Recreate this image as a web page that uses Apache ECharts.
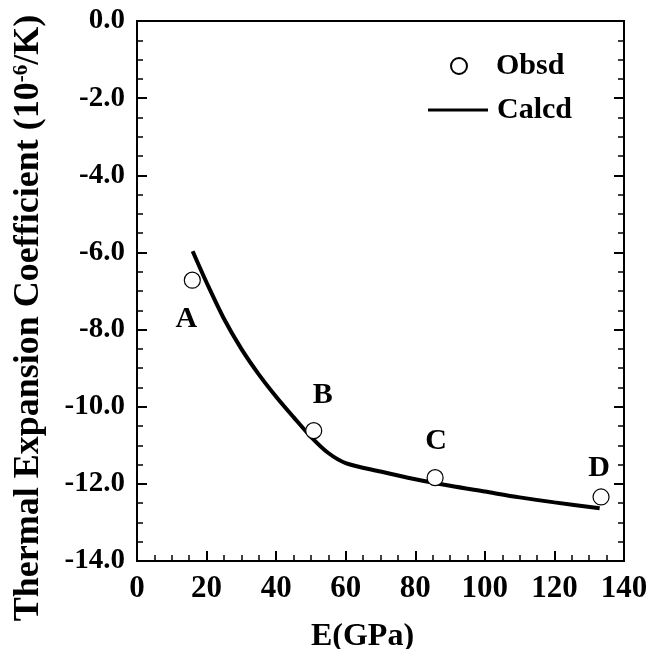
<!DOCTYPE html>
<html><head><meta charset="utf-8">
<script src="https://cdn.jsdelivr.net/npm/echarts@6/dist/echarts.min.js"></script>
<style>html,body{margin:0;padding:0;background:#fff}#c{width:657px;height:649px}</style>
</head><body><div id="c"></div>
<script>
// Observed points
const obsE = [15.9, 50.8, 85.7, 133.4];
const obsA = [-6.72, -10.62, -11.84, -12.34];
const obsLabels = ['A', 'B', 'C', 'D'];
// Calculated curve
const calcE = [16, 20, 25, 30, 35, 40, 45, 50, 55, 60, 70, 80, 90, 100, 110, 120, 133];
const calcA = [-5.97, -6.78, -7.72, -8.5, -9.16, -9.74, -10.27, -10.78, -11.2, -11.46, -11.68, -11.88, -12.05, -12.2, -12.35, -12.48, -12.63];
const xTicks = [0, 20, 40, 60, 80, 100, 120, 140];
const yTicks = [0, -2, -4, -6, -8, -10, -12, -14];

const font = 'Liberation Serif';
const labelOffsets = [[-6, 39], [9, -35], [1, -36], [-2, -29]];

const chart = echarts.init(document.getElementById('c'));
function axisCommon() {
  return {
    axisLine: { show: true, onZero: false, lineStyle: { color: '#000', width: 2 } },
    axisTick: { show: true, inside: true, length: 10, lineStyle: { color: '#000', width: 2 } },
    minorTick: { show: true, splitNumber: 4, length: 6, lineStyle: { color: '#000', width: 1.5 } },
    splitLine: { show: false }
  };
}
const bold = { fontFamily: font, fontWeight: 'bold', color: '#000' };
chart.setOption({
  animation: false,
  backgroundColor: '#fff',
  grid: { left: 137, top: 21, right: 33, bottom: 88, outerBoundsMode: 'none', containLabel: false,
    show: true, borderColor: '#000', borderWidth: 2, backgroundColor: 'transparent' },
  legend: [
    { data: ['Obsd'], left: 450, top: 51, padding: 0, itemWidth: 16, itemHeight: 16, itemGap: 0,
      textStyle: Object.assign({ fontSize: 30, padding: [0, 0, 0, 24] }, bold) },
    { data: [{ name: 'Calcd', icon: 'rect' }], left: 428, top: 95, padding: 0, itemWidth: 60, itemHeight: 3, itemGap: 0,
      itemStyle: { color: '#000', borderWidth: 0 },
      textStyle: Object.assign({ fontSize: 30, padding: [0, 0, 0, 4] }, bold) }
  ],
  xAxis: [Object.assign(axisCommon(), {
    type: 'value', min: 0, max: 140, interval: 20,
    name: 'E(GPa)', nameLocation: 'middle', nameGap: 60,
    nameTextStyle: Object.assign({ fontSize: 32, padding: [0, 36, 0, 0] }, bold),
    axisLabel: Object.assign({ fontSize: 31, margin: 12,
      formatter: v => xTicks.includes(v) ? String(v) : '' }, bold)
  })],
  yAxis: [Object.assign(axisCommon(), {
    type: 'value', min: -14, max: 0, interval: 2,
    name: '{a|Thermal Expansion Coefficient (10}{s|-6}{a|/K)}', nameLocation: 'middle', nameGap: 90,
    nameTextStyle: Object.assign({ fontSize: 36, padding: [0, 54, 0, 0],
      rich: { a: Object.assign({ fontSize: 36 }, bold),
              s: Object.assign({ fontSize: 21, verticalAlign: 'top', padding: [0, 0, 12, 0] }, bold) } }, bold),
    axisLabel: Object.assign({ fontSize: 29, margin: 12,
      formatter: v => yTicks.includes(v) ? v.toFixed(1) : '' }, bold)
  }), Object.assign(axisCommon(), {
    type: 'value', min: -14, max: 0, interval: 2, position: 'right',
    axisLabel: { show: false }
  })],
  series: [
    { name: 'Calcd', type: 'line', data: calcE.map((e, i) => [e, calcA[i]]), smooth: 0.3,
      showSymbol: false, symbol: 'none', lineStyle: { color: '#000', width: 4 }, itemStyle: { color: '#000' }, z: 2 },
    { name: 'Obsd', type: 'scatter', symbol: 'circle', symbolSize: 16,
      itemStyle: { color: '#fff', borderColor: '#000', borderWidth: 1.2, opacity: 1 },
      data: obsE.map((e, i) => ({ value: [e, obsA[i]],
        label: Object.assign({ show: true, formatter: obsLabels[i], offset: labelOffsets[i], position: 'inside',
          fontSize: 30 }, bold) })), z: 3 }
  ]
});
</script></body></html>
